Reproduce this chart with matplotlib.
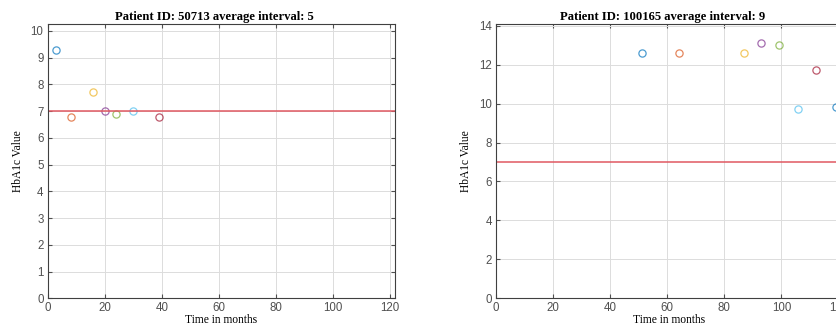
import matplotlib.pyplot as plt

# HbA1c readings per patient (months, value)
months_50713 = [3, 8, 16, 20, 24, 30, 39]
hba1c_50713 = [9.3, 6.8, 7.7, 7.0, 6.9, 7.0, 6.8]

months_100165 = [51, 64, 87, 93, 99, 106, 112, 119]
hba1c_100165 = [12.6, 12.6, 12.6, 13.1, 13.0, 9.7, 11.7, 9.8]

target = 7.0
xticks = [0, 20, 40, 60, 80, 100, 120]

# matlab default line colours
colors = ['#0072BD', '#D95319', '#EDB120', '#7E2F8E', '#77AC30', '#4DBEEE', '#A2142F']

W, H = 836, 335
fig = plt.figure(figsize=(W / 100, H / 100), dpi=100)

def panel(ax, t, v, title, ymax, yticks):
    for i, (x, y) in enumerate(zip(t, v)):
        ax.plot(x, y, 'o', mfc='none', mec=colors[i % len(colors)],
                ms=5.2, mew=0.9, alpha=0.7)
    ax.axhline(target, color='#e05862', lw=1.1)
    ax.set_xlim(0, 121.6)
    ax.set_ylim(0, ymax)
    ax.set_xticks(xticks)
    ax.set_yticks(yticks)
    ax.grid(True, color='#dcdcdc', lw=0.7)
    ax.set_axisbelow(True)
    ax.tick_params(direction='in', top=True, right=True, length=3,
                   labelsize=8.3, colors='#505050', labelcolor='#505050', pad=3)
    for lab in ax.get_xticklabels() + ax.get_yticklabels():
        lab.set_family('Liberation Sans')
    for s in ax.spines.values():
        s.set_color('#404040')
        s.set_linewidth(0.8)
    ax.set_title(title, family='Liberation Serif', fontweight='bold',
                 fontsize=9.1, pad=3, x=0.48)
    ax.set_xlabel('Time in months', family='Liberation Serif', fontsize=8.3,
                  labelpad=0)
    ax.set_ylabel('HbA1c Value', family='Liberation Serif', fontsize=8.3,
                  labelpad=5)

ax1 = fig.add_axes([47.7 / W, (H - 298.3) / H, 347 / W, 274 / H])
panel(ax1, months_50713, hba1c_50713, 'Patient ID: 50713 average interval: 5',
      10.25, range(0, 11))

ax2 = fig.add_axes([496 / W, (H - 298.3) / H, 347 / W, 274 / H])
panel(ax2, months_100165, hba1c_100165, 'Patient ID: 100165 average interval: 9',
      14.07, range(0, 15, 2))

fig.savefig('out.png', dpi=100)
